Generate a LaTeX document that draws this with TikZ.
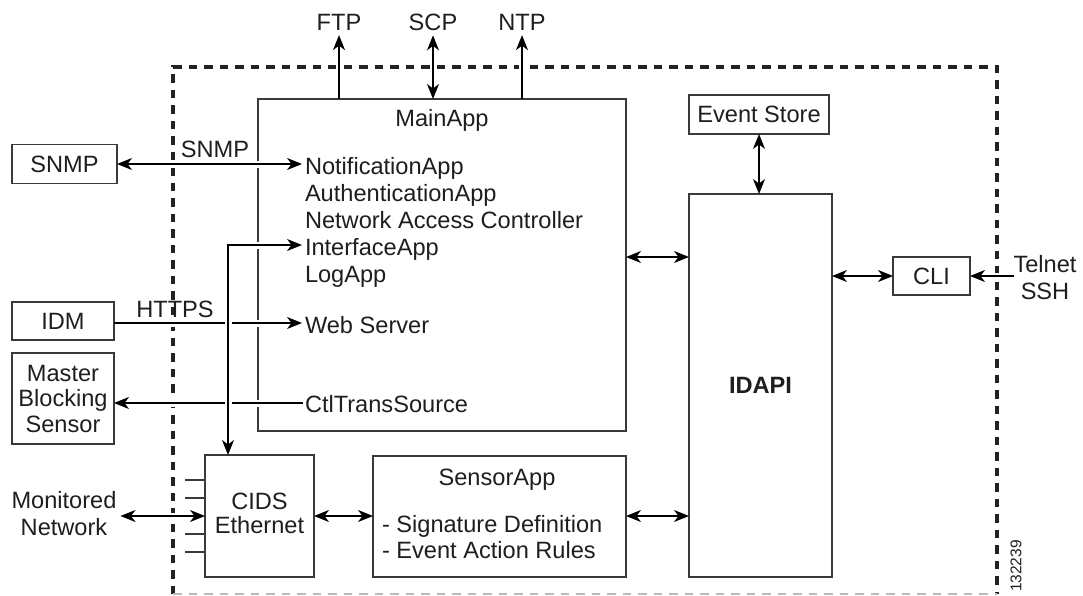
\documentclass[tikz,border=0pt]{standalone}
\usepackage{fontspec}
\setmainfont{Liberation Sans}
\usetikzlibrary{arrows.meta}
\definecolor{boxcol}{HTML}{3A3A3A}
\definecolor{txtcol}{HTML}{1E1E1E}
\definecolor{dashcol}{HTML}{222222}
\begin{document}
\begin{tikzpicture}[x=1pt,y=-1pt,
  >={Stealth[length=15pt,width=12pt,inset=4.5pt]},
  box/.style={draw=boxcol, line width=1.1pt, inner sep=0pt, outer sep=0pt, text=txtcol, font=\fontsize{23.6}{27}\selectfont, align=center},
  txt/.style={inner sep=0pt, outer sep=0pt, text=txtcol, font=\fontsize{23.6}{27}\selectfont},
  conn/.style={line width=1.4pt, black},
  gap/.style={white, line width=7pt, shorten <=10pt, shorten >=10pt},
]
\useasboundingbox (0,0) rectangle (1083,595);

% system border
\draw[dashcol, line width=3.3pt, dash pattern=on 8.5pt off 7pt] (173,594) -- (173,67) -- (997,67) -- (997,594);
\draw[gray!55, line width=1.4pt, dash pattern=on 8.5pt off 7pt] (173,594) -- (997,594);

% MainApp
\node[box, minimum width=368, minimum height=332] (main) at (442,265) {};
\node[txt, anchor=base] (maintitle) at (442,126) {MainApp};
\node[txt, anchor=base west] (notif) at (305,174) {NotificationApp};
\node[txt, anchor=base west] (auth) at (305,201) {AuthenticationApp};
\node[txt, anchor=base west] (nac) at (305,228) {Network Access Controller};
\node[txt, anchor=base west] (iface) at (305,255) {InterfaceApp};
\node[txt, anchor=base west] (logapp) at (305,282) {LogApp};
\node[txt, anchor=base west] (web) at (305,333) {Web Server};
\node[txt, anchor=base west] (ctl) at (305,412) {CtlTransSource};
\coordinate (notifin) at (302,164);
\coordinate (ifacein) at (302,245);
\coordinate (webin) at (302,323);
\coordinate (ctlin) at (303,403);
\coordinate (corner) at (228,245);

% top services
\node[txt] (ftp) at (339,22) {FTP};
\node[txt] (scp) at (433,22) {SCP};
\node[txt] (ntp) at (522,22) {NTP};

% left externals
\node[box, minimum width=105, minimum height=39] (snmp) at (64.5,164) {SNMP};
\node[box, minimum width=102, minimum height=38] (idm) at (63,321) {IDM};
\node[box, minimum width=102, minimum height=91, font=\fontsize{23.6}{25.5}\selectfont] (mbs) at (63,398.5) {Master\\Blocking\\Sensor};
\node[txt] (snmplbl) at (215,149) {SNMP};
\node[txt] (https) at (175,309) {HTTPS};
\node[txt, align=center] (mon) at (64,514) {Monitored\\Network};

% CIDS and SensorApp
\node[box, minimum width=109, minimum height=122] (cids) at (259.5,516) {\raisebox{-3pt}{\begin{tabular}{@{}c@{}}CIDS\\[-2.5pt]Ethernet\end{tabular}}};
\foreach \ty in {480,498,534,552} \draw[boxcol, line width=1.1pt] (cids.west |- 0,\ty) -- ++(-20,0);
\node[box, minimum width=253, minimum height=121] (sensor) at (499.5,516.5) {};
\node[txt, anchor=base] (sensortitle) at (497,485) {SensorApp};
\node[txt, anchor=base west] (sig) at (382,532) {- Signature Definition};
\node[txt, anchor=base west] (ear) at (382,558) {- Event Action Rules};

% IDAPI, Event Store, CLI
\node[box, minimum width=143, minimum height=383, font=\bfseries\fontsize{23.6}{27}\selectfont] (idapi) at (760.5,385.5) {IDAPI};
\node[box, minimum width=140, minimum height=39] (es) at (759,114.5) {Event Store};
\node[box, minimum width=77, minimum height=38] (cli) at (931.5,276) {CLI};
\node[txt, align=center] (tel) at (1045,278) {Telnet\\SSH};

\node[txt, rotate=90, font=\fontsize{15.5}{18}\selectfont] (fignum) at (1016,566) {132239};

% connectors
\draw[gap] (main.north -| ftp.south) -- (ftp.south);
\draw[conn,->,shorten >=5pt] (main.north -| ftp.south) -- (ftp.south);
\draw[gap] (main.north -| scp.south) -- (scp.south);
\draw[conn,<->,shorten >=5pt] (main.north -| scp.south) -- (scp.south);
\draw[gap] (main.north -| ntp.south) -- (ntp.south);
\draw[conn,->,shorten >=5pt] (main.north -| ntp.south) -- (ntp.south);

\draw[gap] (snmp.east) -- (notifin);
\draw[conn,<->] (snmp.east) -- (notifin);
\draw[gap] (idm.east |- webin) -- (webin);
\draw[conn,->] (idm.east |- webin) -- (webin);
\draw[gap] (ctlin) -- (ctlin -| mbs.east);
\draw[conn,->] (ctlin) -- (ctlin -| mbs.east);
\draw[gap] (corner) -- (ifacein);
\draw[gap] (corner) -- (corner |- cids.north);
\draw[conn,<->] (ifacein) -- (corner) -- (corner |- cids.north);

\draw[gap] (mon.east |- cids.west) -- (cids.west);
\draw[conn,<->,shorten <=4pt] (mon.east |- cids.west) -- (cids.west);
\draw[conn,<->] (cids.east) -- (sensor.west |- cids.east);
\draw[conn,<->] (sensor.east |- 0,516) -- (idapi.west |- 0,516);
\draw[conn,<->] (main.east |- 0,257) -- (idapi.west |- 0,257);
\draw[conn,<->] (es.south) -- (es.south |- idapi.north);
\draw[conn,<->] (idapi.east |- cli.west) -- (cli.west);
\draw[gap] (tel.west |- cli.east) -- (cli.east);
\draw[conn,->] (tel.west |- cli.east) -- (cli.east);
\end{tikzpicture}
\end{document}
